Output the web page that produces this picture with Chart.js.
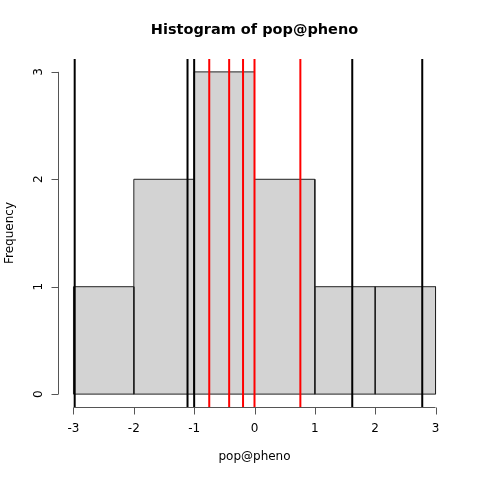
<!DOCTYPE html>
<html>
<head>
<meta charset="utf-8">
<script src="https://cdn.jsdelivr.net/npm/chart.js@4/dist/chart.umd.min.js"></script>
<style>
  html, body { margin: 0; padding: 0; background: #fff; }
  #wrap { width: 480px; height: 480px; }
</style>
</head>
<body>
<div id="wrap"><canvas id="histChart" width="480" height="480"></canvas></div>
<script>
// histogram bins (breaks) and counts
const breaks = [-3, -2, -1, 0, 1, 2, 3];
const counts = [1, 2, 3, 2, 1, 1];
// vertical reference lines
const blackLines = [-2.98, -1.11, -1.0, 1.62, 2.78];
const redLines = [-0.75, -0.42, -0.19, 0.0, 0.76];
// axis ticks
const xTicks = [-3, -2, -1, 0, 1, 2, 3];
const yTicks = [0, 1, 2, 3];

const titleText = 'Histogram of pop@pheno';
const xLabel = 'pop@pheno';
const yLabel = 'Frequency';

// R-style 4% range extension
const xSpan = breaks[breaks.length - 1] - breaks[0];
const xMin = breaks[0] - 0.04 * xSpan;
const xMax = breaks[breaks.length - 1] + 0.04 * xSpan;
const yTop = Math.max(...counts);
const yMin = -0.04 * yTop;
const yMax = yTop + 0.04 * yTop;

const datasets = [];

counts.forEach((c, i) => {
    const lo = breaks[i], hi = breaks[i + 1];
    datasets.push({
        data: [{x: lo, y: 0}, {x: lo, y: c}, {x: hi, y: c}, {x: hi, y: 0}],
        borderColor: '#222',
        borderWidth: 1,
        backgroundColor: '#D3D3D3',
        fill: 'origin',
        pointRadius: 0,
        tension: 0,
        order: 3
    });
});
// bottom edge of the bars
datasets.push({
    data: [{x: breaks[0], y: 0}, {x: breaks[breaks.length - 1], y: 0}],
    borderColor: '#222',
    borderWidth: 1,
    fill: false,
    pointRadius: 0,
    order: 2
});

function vline(v, color) {
    return {
        data: [{x: v, y: yMin}, {x: v, y: yMax}],
        borderColor: color,
        borderWidth: 2,
        fill: false,
        pointRadius: 0,
        order: 1
    };
}
blackLines.forEach(v => datasets.push(vline(v, '#000')));
redLines.forEach(v => datasets.push(vline(v, '#FF0000')));

// draws R-like axes, title and labels
const rAxes = {
    id: 'rAxes',
    afterDraw(chart) {
        const ctx = chart.ctx;
        const xs = chart.scales.x, ys = chart.scales.y;
        const area = chart.chartArea;
        ctx.save();
        ctx.strokeStyle = '#555';
        ctx.lineWidth = 1;
        ctx.fillStyle = '#000';
        ctx.font = '12px "DejaVu Sans"';

        // x axis
        const xb = Math.round(area.bottom) + 0.5;
        ctx.beginPath();
        ctx.moveTo(xs.getPixelForValue(xTicks[0]), xb);
        ctx.lineTo(xs.getPixelForValue(xTicks[xTicks.length - 1]), xb);
        xTicks.forEach(t => {
            const px = Math.round(xs.getPixelForValue(t)) + 0.5;
            ctx.moveTo(px, xb);
            ctx.lineTo(px, xb + 7);
        });
        ctx.stroke();
        ctx.textAlign = 'center';
        ctx.textBaseline = 'middle';
        xTicks.forEach(t => ctx.fillText(String(t), xs.getPixelForValue(t), xb + 21));

        // y axis
        const yl = Math.round(area.left) - 0.5;
        ctx.beginPath();
        ctx.moveTo(yl, ys.getPixelForValue(yTicks[0]));
        ctx.lineTo(yl, ys.getPixelForValue(yTicks[yTicks.length - 1]));
        yTicks.forEach(t => {
            const py = Math.round(ys.getPixelForValue(t)) + 0.5;
            ctx.moveTo(yl, py);
            ctx.lineTo(yl - 7, py);
        });
        ctx.stroke();
        yTicks.forEach(t => {
            ctx.save();
            ctx.translate(yl - 20, ys.getPixelForValue(t));
            ctx.rotate(-Math.PI / 2);
            ctx.fillText(String(t), 0, 0);
            ctx.restore();
        });

        // labels
        const cx = (area.left + area.right) / 2;
        ctx.fillText(xLabel, cx, 457);
        ctx.save();
        ctx.translate(10, (area.top + area.bottom) / 2);
        ctx.rotate(-Math.PI / 2);
        ctx.fillText(yLabel, 0, 0);
        ctx.restore();

        ctx.font = 'bold 14.5px "DejaVu Sans"';
        ctx.fillText(titleText, cx, 30);
        ctx.restore();
    }
};

new Chart(document.getElementById('histChart').getContext('2d'), {
    type: 'line',
    data: { datasets: datasets },
    options: {
        responsive: false,
        animation: false,
        layout: { padding: { left: 59, right: 30, top: 59, bottom: 73 } },
        plugins: { legend: { display: false }, tooltip: { enabled: false } },
        scales: {
            x: { type: 'linear', min: xMin, max: xMax, display: false },
            y: { type: 'linear', min: yMin, max: yMax, display: false }
        }
    },
    plugins: [rAxes]
});
</script>
</body>
</html>
